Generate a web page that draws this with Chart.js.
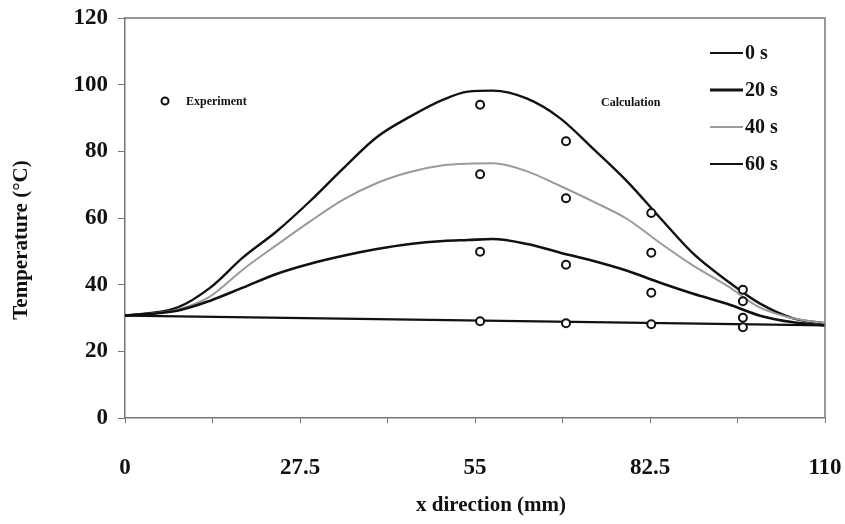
<!DOCTYPE html>
<html>
<head>
<meta charset="utf-8">
<script src="https://cdn.jsdelivr.net/npm/chart.js@4.4.1/dist/chart.umd.min.js"></script>
<style>
  html, body { margin: 0; padding: 0; background: #fff; }
  #wrap { width: 845px; height: 524px; position: relative; }
</style>
</head>
<body>
<div id="wrap"><canvas id="tempChart"></canvas></div>
<script>
// Calculated profiles (x in mm, temperature in °C)
const xCalc = [0, 8.2, 13.4, 18.5, 23.9, 29.1, 34.3, 39.6, 44.8, 50, 53.9, 57.8, 63.2, 68.4, 73.5, 78.9, 84.1, 89.3, 94.6, 99.8, 105, 110];
const calc60 = [30.7, 33.1, 39.1, 48.1, 56.1, 65.1, 74.9, 84.3, 90.4, 95.5, 97.9, 98.2, 95.8, 89.9, 80.9, 71.0, 60.0, 49.3, 41.2, 34.3, 29.9, 28.4];
const calc40 = [30.7, 32.5, 36.5, 44.5, 52.0, 59.0, 65.5, 70.5, 73.8, 75.8, 76.3, 76.4, 74.0, 69.6, 65.0, 59.7, 52.5, 45.7, 39.7, 33.1, 29.9, 28.4];
const calc20 = [30.7, 32.2, 35.2, 39.1, 43.3, 46.3, 48.7, 50.7, 52.2, 53.1, 53.4, 53.7, 52.2, 49.6, 47.2, 44.2, 40.6, 37.3, 34.3, 30.7, 28.7, 27.8];
const xCalc0 = [0, 110];
const calc0 = [30.7, 27.8];

// Measured values
const xExp = [55.8, 69.3, 82.7, 97.1];
const exp60 = [94.0, 83.0, 61.5, 38.5];
const exp40 = [73.1, 65.9, 49.6, 35.0];
const exp20 = [49.9, 46.0, 37.6, 30.1];
const exp0 = [29.0, 28.4, 28.1, 27.2];

// Axes
const xTicks = [0, 13.75, 27.5, 41.25, 55, 68.75, 82.5, 96.25, 110];
const xTickLabels = ['0', '', '27.5', '', '55', '', '82.5', '', '110'];
const yTicks = [0, 20, 40, 60, 80, 100, 120];

const legendItems = ['0 s', '20 s', '40 s', '60 s'];
const legendColors = ['#111', '#111', '#9a9a9a', '#111'];
const legendWidths = [2, 3, 2, 2];

Chart.defaults.font.family = '"Liberation Serif", serif';
Chart.defaults.color = '#111';

function pts(xs, ys) {
    return xs.map((x, i) => ({ x: x, y: ys[i] }));
}

function lineSet(label, xs, ys, color, width) {
    return {
        label: label,
        data: pts(xs, ys),
        showLine: true,
        borderColor: color,
        borderWidth: width,
        pointRadius: 0,
        cubicInterpolationMode: 'monotone',
        order: 2
    };
}

function expSet(label, ys) {
    return {
        label: label,
        data: pts(xExp, ys),
        showLine: false,
        pointRadius: 4,
        pointBorderWidth: 2,
        pointBorderColor: '#111',
        pointBackgroundColor: '#fff',
        order: 1
    };
}

// frame, axis titles and hand made legend
const decorations = {
    id: 'decorations',
    afterDatasetsDraw(chart) {
        const ctx = chart.ctx;
        const a = chart.chartArea;
        ctx.save();
        ctx.strokeStyle = '#777';
        ctx.lineWidth = 1.5;
        ctx.beginPath();
        ctx.moveTo(a.left, a.top);
        ctx.lineTo(a.right, a.top);
        ctx.lineTo(a.right, a.bottom);
        ctx.stroke();

        ctx.fillStyle = '#111';
        ctx.textAlign = 'center';
        ctx.textBaseline = 'middle';
        ctx.font = 'bold 21px "Liberation Serif"';
        ctx.fillText('x direction (mm)', 491, 506);

        // y axis title
        ctx.save();
        ctx.translate(22, 240);
        ctx.rotate(-Math.PI / 2);
        ctx.fillText('Temperature (°C)', 0, 0);
        ctx.restore();

        // Experiment label
        ctx.lineWidth = 2;
        ctx.strokeStyle = '#111';
        ctx.fillStyle = '#fff';
        ctx.beginPath();
        ctx.arc(165, 101, 3.5, 0, Math.PI * 2);
        ctx.fill();
        ctx.stroke();
        ctx.fillStyle = '#111';
        ctx.textAlign = 'left';
        ctx.font = 'bold 12px "Liberation Serif"';
        ctx.fillText('Experiment', 186, 102);
        ctx.fillText('Calculation', 601, 103);

        // time legend
        ctx.font = 'bold 20px "Liberation Serif"';
        legendItems.forEach((txt, i) => {
            const y = 53 + i * 37;
            ctx.strokeStyle = legendColors[i];
            ctx.lineWidth = legendWidths[i];
            ctx.beginPath();
            ctx.moveTo(710, y);
            ctx.lineTo(743, y);
            ctx.stroke();
            ctx.fillStyle = '#111';
            ctx.fillText(txt, 745, y + 1);
        });
        ctx.restore();
    }
};

const ctx = document.getElementById('tempChart').getContext('2d');
const chart = new Chart(ctx, {
    type: 'scatter',
    data: {
        datasets: [
            expSet('exp 60 s', exp60),
            expSet('exp 40 s', exp40),
            expSet('exp 20 s', exp20),
            expSet('exp 0 s', exp0),
            lineSet('0 s', xCalc0, calc0, '#111', 2.2),
            lineSet('20 s', xCalc, calc20, '#111', 2.6),
            lineSet('40 s', xCalc, calc40, '#9a9a9a', 2),
            lineSet('60 s', xCalc, calc60, '#111', 2.4)
        ]
    },
    options: {
        responsive: true,
        maintainAspectRatio: false,
        animation: false,
        layout: { padding: { top: 18, right: 20, left: 0, bottom: 0 } },
        plugins: {
            legend: { display: false },
            tooltip: { enabled: false }
        },
        scales: {
            x: {
                type: 'linear',
                min: 0,
                max: 110,
                afterBuildTicks(scale) {
                    scale.ticks = xTicks.map(v => ({ value: v }));
                },
                afterFit(scale) {
                    scale.height = 106;
                    scale.paddingLeft = 0;
                    scale.paddingRight = 0;
                },
                ticks: {
                    autoSkip: false,
                    maxRotation: 0,
                    padding: 31,
                    font: { size: 23, weight: 'bold' },
                    callback: (v, i) => xTickLabels[i]
                },
                grid: {
                    drawOnChartArea: false,
                    drawTicks: true,
                    tickLength: 5,
                    color: '#777'
                },
                border: { color: '#777', width: 1.5 }
            },
            y: {
                min: 0,
                max: 120,
                afterBuildTicks(scale) {
                    scale.ticks = yTicks.map(v => ({ value: v }));
                },
                afterFit(scale) {
                    scale.width = 125;
                    scale.paddingTop = 0;
                    scale.paddingBottom = 0;
                },
                ticks: {
                    padding: 10,
                    font: { size: 23, weight: 'bold' }
                },
                grid: {
                    drawOnChartArea: false,
                    drawTicks: true,
                    tickLength: 7,
                    color: '#777'
                },
                border: { color: '#777', width: 1.5 }
            }
        }
    },
    plugins: [decorations]
});
</script>
</body>
</html>
